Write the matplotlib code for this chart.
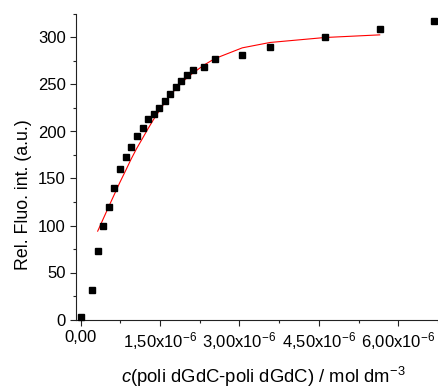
import numpy as np
import matplotlib
matplotlib.use('Agg')
import matplotlib.pyplot as plt
from matplotlib.ticker import MultipleLocator, FixedLocator

plt.rcParams['font.family'] = ['Liberation Sans', 'DejaVu Sans']
plt.rcParams['mathtext.fontset'] = 'custom'
plt.rcParams['mathtext.rm'] = 'Liberation Sans'
plt.rcParams['mathtext.it'] = 'Liberation Sans:italic'

# measured points: concentration (mol dm-3) and relative fluorescence
conc = [0.0, 0.208, 0.321, 0.421, 0.529, 0.635, 0.737, 0.850, 0.956, 1.058,
        1.171, 1.272, 1.379, 1.485, 1.587, 1.693, 1.800, 1.901, 2.008, 2.116,
        2.324, 2.532, 3.053, 3.576, 4.616, 5.649, 6.675]
fluo = [2.8, 31.5, 72.7, 99.3, 119.8, 140.4, 159.9, 172.7, 183.3, 194.7,
        203.2, 212.8, 218.4, 224.8, 232.6, 239.7, 247.1, 253.2, 259.6, 264.9,
        268.4, 276.6, 281.9, 290.0, 300.6, 308.8, 317.7]

# fitted curve, read at the data concentrations
fit_conc = conc[2:26]
fit_fluo = [94, 106.5, 120, 133, 145.5, 158.5, 171, 182, 193, 203,
            213, 222, 230.5, 238.5, 245.5, 251.5, 257, 262, 270.5, 277.5,
            289, 294.7, 300, 302.8]

x_ticks = [0.0, 1.5, 3.0, 4.5, 6.0]
x_tick_labels = ['0,00', r'1,50x10$^{\mathregular{-6}}$', r'3,00x10$^{\mathregular{-6}}$',
                 r'4,50x10$^{\mathregular{-6}}$', r'6,00x10$^{\mathregular{-6}}$']

fig = plt.figure(figsize=(4.38, 3.89), dpi=100)
ax = fig.add_axes([76/438, (389-319.5)/389, (439-76)/438, 305.5/389])

ax.plot(np.array(fit_conc)*1e-6, fit_fluo, '-', color='red', lw=0.8, zorder=2)
ax.plot(np.array(conc)*1e-6, fluo, 's', color='black', ms=5, zorder=3, clip_on=False)

ax.set_xlim(-0.0888e-6, 6.769e-6)
ax.set_ylim(0, 325)

ax.spines['top'].set_visible(False)
ax.spines['right'].set_visible(False)
for s in ['left', 'bottom']:
    ax.spines[s].set_linewidth(0.8)
    ax.spines[s].set_color('#222222')

ax.xaxis.set_major_locator(FixedLocator(np.array(x_ticks)*1e-6))
ax.set_xticklabels(x_tick_labels)
ax.xaxis.set_minor_locator(MultipleLocator(0.75e-6))
ax.yaxis.set_major_locator(MultipleLocator(50))
ax.yaxis.set_minor_locator(MultipleLocator(25))

ax.tick_params(which='major', direction='out', length=4.5, width=0.8, labelsize=12, pad=3, color='#222222')
ax.tick_params(which='minor', direction='out', length=2.5, width=0.8, color='#222222')

ax.set_ylabel('Rel. Fluo. int. (a.u.)', fontsize=12.8)
ax.yaxis.set_label_coords(-0.12, 0.41)
ax.set_xlabel(r'$\it{c}$(poli dGdC-poli dGdC) / mol dm$^{\mathregular{-3}}$', fontsize=13.3)
ax.xaxis.set_label_coords(0.515, -0.147)
ax.xaxis.label.set_va('top')

fig.savefig('out.png', dpi=100)
